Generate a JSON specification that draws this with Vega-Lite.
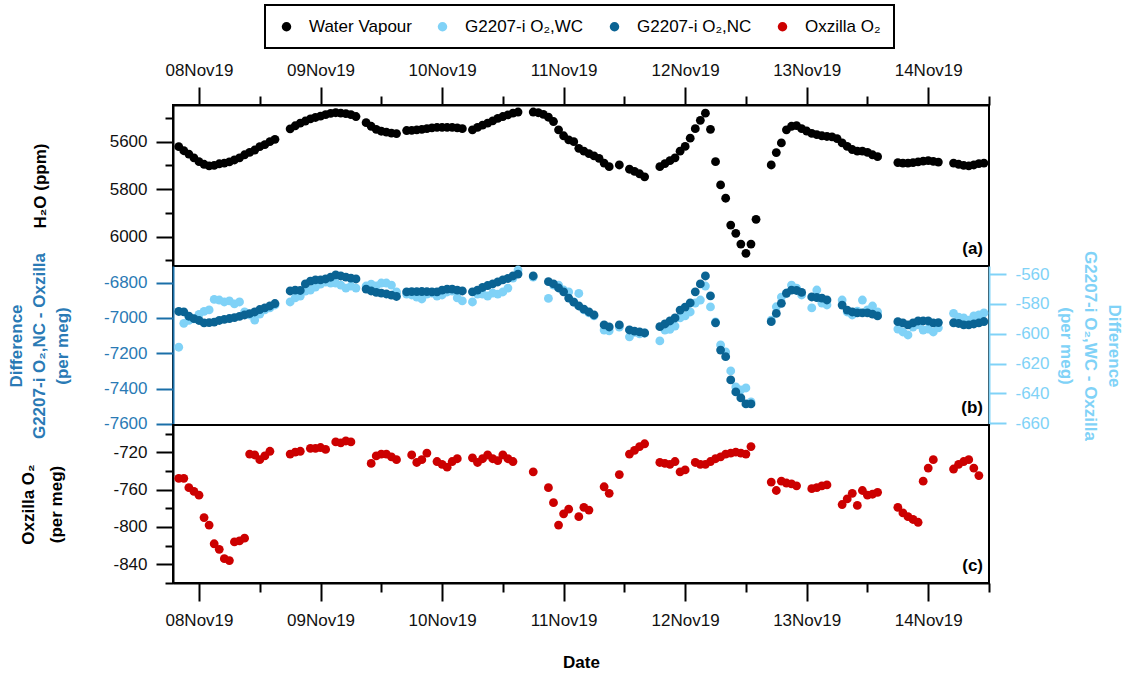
{
  "$schema": "https://vega.github.io/schema/vega-lite/v6.json",
  "padding": {"left": 6, "top": 4, "right": 5, "bottom": 5},
  "background": "white",
  "config": {
    "font": "Liberation Sans",
    "view": {"stroke": "black", "strokeWidth": 2},
    "axis": {"grid": false, "labelFont": "Liberation Sans", "labelFontSize": 17, "labelColor": "#111", "tickColor": "black", "tickWidth": 2, "domainColor": "black", "domainWidth": 2, "titleFont": "Liberation Sans", "titleFontSize": 17, "titleFontWeight": "bold", "titleColor": "black", "labelOverlap": false, "labelFlush": false},
    "legend": {"strokeColor": "black", "strokeWidth": 2, "padding": 13, "labelFontSize": 17, "labelFont": "Liberation Sans", "labelColor": "black", "symbolType": "circle", "symbolSize": 90, "symbolStrokeWidth": 0, "symbolOpacity": 1, "labelOffset": 14, "columnPadding": 22}
  },
  "datasets": {
    "d": [
      {"t":"2019-11-07T20:00","wv":5621,"wc":-609,"nc":-6963,"ox":-748},
      {"t":"2019-11-07T21:00","wv":5638,"wc":-593,"nc":-6965,"ox":-748},
      {"t":"2019-11-07T22:00","wv":5652,"wc":-591,"nc":-6990,"ox":-758},
      {"t":"2019-11-07T23:00","wv":5668,"wc":-590,"nc":-7004,"ox":-762},
      {"t":"2019-11-08T00:00","wv":5684,"wc":-587,"nc":-7014,"ox":-766},
      {"t":"2019-11-08T01:00","wv":5695,"wc":-585,"nc":-7028,"ox":-790},
      {"t":"2019-11-08T02:00","wv":5702,"wc":-584,"nc":-7026,"ox":-798},
      {"t":"2019-11-08T03:00","wv":5700,"wc":-577,"nc":-7023,"ox":-818},
      {"t":"2019-11-08T04:00","wv":5693,"wc":-577.4,"nc":-7014,"ox":-824},
      {"t":"2019-11-08T05:00","wv":5690,"wc":-578.7,"nc":-7008,"ox":-834},
      {"t":"2019-11-08T06:00","wv":5685,"wc":-578,"nc":-7003,"ox":-836},
      {"t":"2019-11-08T07:00","wv":5677,"wc":-580,"nc":-6998,"ox":-816},
      {"t":"2019-11-08T08:00","wv":5668,"wc":-578.7,"nc":-6991,"ox":-815},
      {"t":"2019-11-08T09:00","wv":5655,"wc":-585.4,"nc":-6983,"ox":-812},
      {"t":"2019-11-08T10:00","wv":5645,"wc":-587.4,"nc":-6975,"ox":-722},
      {"t":"2019-11-08T11:00","wv":5635,"wc":-590.8,"nc":-6966,"ox":-723},
      {"t":"2019-11-08T12:00","wv":5621,"wc":-586.8,"nc":-6952,"ox":-728},
      {"t":"2019-11-08T13:00","wv":5612,"wc":-584,"nc":-6943,"ox":-724},
      {"t":"2019-11-08T14:00","wv":5600,"wc":-582.7,"nc":-6932,"ox":-719},
      {"t":"2019-11-08T15:00","wv":5590,"wc":-580.7,"nc":-6918,"ox":null},
      {"t":"2019-11-08T18:00","wv":5546,"wc":-578.7,"nc":-6847,"ox":-722},
      {"t":"2019-11-08T19:00","wv":5533,"wc":-576,"nc":-6842,"ox":-720},
      {"t":"2019-11-08T20:00","wv":5522,"wc":-574.7,"nc":-6844,"ox":-719},
      {"t":"2019-11-08T21:00","wv":5513,"wc":-571.4,"nc":-6807,"ox":null},
      {"t":"2019-11-08T22:00","wv":5504,"wc":-570.7,"nc":-6791,"ox":-716},
      {"t":"2019-11-08T23:00","wv":5498,"wc":-568.7,"nc":-6784,"ox":-716},
      {"t":"2019-11-09T00:00","wv":5492,"wc":-566.7,"nc":-6784,"ox":-715},
      {"t":"2019-11-09T01:00","wv":5486,"wc":-565.4,"nc":-6779,"ox":-717},
      {"t":"2019-11-09T02:00","wv":5481,"wc":-566,"nc":-6769,"ox":null},
      {"t":"2019-11-09T03:00","wv":5478,"wc":-566,"nc":-6756,"ox":-709},
      {"t":"2019-11-09T04:00","wv":5480,"wc":-567.4,"nc":-6762,"ox":-710},
      {"t":"2019-11-09T05:00","wv":5482,"wc":-569.4,"nc":-6768,"ox":-708},
      {"t":"2019-11-09T06:00","wv":5486,"wc":-568,"nc":-6774,"ox":-709},
      {"t":"2019-11-09T07:00","wv":5494,"wc":-569.4,"nc":-6779,"ox":null},
      {"t":"2019-11-09T09:00","wv":5520,"wc":-568,"nc":-6836,"ox":null},
      {"t":"2019-11-09T10:00","wv":5535,"wc":-566.7,"nc":-6847,"ox":-732},
      {"t":"2019-11-09T11:00","wv":5548,"wc":-568,"nc":-6855,"ox":-724},
      {"t":"2019-11-09T12:00","wv":5556,"wc":-566,"nc":-6859,"ox":-722},
      {"t":"2019-11-09T13:00","wv":5560,"wc":-566,"nc":-6864,"ox":-722},
      {"t":"2019-11-09T14:00","wv":5564,"wc":-567.4,"nc":-6870,"ox":-725},
      {"t":"2019-11-09T15:00","wv":5566,"wc":-572,"nc":-6878,"ox":-728},
      {"t":"2019-11-09T17:00","wv":5553,"wc":-573.4,"nc":-6852,"ox":null},
      {"t":"2019-11-09T18:00","wv":5552,"wc":-574,"nc":-6851,"ox":-723},
      {"t":"2019-11-09T19:00","wv":5550,"wc":-575.4,"nc":-6851,"ox":-731},
      {"t":"2019-11-09T20:00","wv":5548,"wc":-576.7,"nc":-6850,"ox":-728},
      {"t":"2019-11-09T21:00","wv":5545,"wc":-573.4,"nc":-6851,"ox":-721},
      {"t":"2019-11-09T22:00","wv":5542,"wc":-572.7,"nc":-6852,"ox":null},
      {"t":"2019-11-09T23:00","wv":5540,"wc":-574.7,"nc":-6852,"ox":-730},
      {"t":"2019-11-10T00:00","wv":5540,"wc":-574,"nc":-6842,"ox":-733},
      {"t":"2019-11-10T01:00","wv":5540,"wc":-572,"nc":-6836,"ox":-736},
      {"t":"2019-11-10T02:00","wv":5540,"wc":-571.4,"nc":-6836,"ox":-730},
      {"t":"2019-11-10T03:00","wv":5542,"wc":-576,"nc":-6842,"ox":-727},
      {"t":"2019-11-10T04:00","wv":5545,"wc":-578,"nc":-6847,"ox":null},
      {"t":"2019-11-10T06:00","wv":5550,"wc":-578.7,"nc":-6852,"ox":-726},
      {"t":"2019-11-10T07:00","wv":5540,"wc":-573.4,"nc":-6842,"ox":-731},
      {"t":"2019-11-10T08:00","wv":5530,"wc":-573.4,"nc":-6827,"ox":-727},
      {"t":"2019-11-10T09:00","wv":5522,"wc":-574.7,"nc":-6816,"ox":-723},
      {"t":"2019-11-10T10:00","wv":5512,"wc":-572.7,"nc":-6807,"ox":-727},
      {"t":"2019-11-10T11:00","wv":5502,"wc":-573.4,"nc":-6796,"ox":-729},
      {"t":"2019-11-10T12:00","wv":5494,"wc":-572,"nc":-6784,"ox":-723},
      {"t":"2019-11-10T13:00","wv":5487,"wc":-569.4,"nc":-6776,"ox":-727},
      {"t":"2019-11-10T14:00","wv":5480,"wc":-562.7,"nc":-6762,"ox":-730},
      {"t":"2019-11-10T15:00","wv":5475,"wc":-557.3,"nc":-6751,"ox":null},
      {"t":"2019-11-10T18:00","wv":5475,"wc":-562,"nc":-6762,"ox":-741},
      {"t":"2019-11-10T19:00","wv":5478,"wc":null,"nc":null,"ox":null},
      {"t":"2019-11-10T20:00","wv":5485,"wc":null,"nc":null,"ox":null},
      {"t":"2019-11-10T21:00","wv":5497,"wc":-576.3,"nc":-6794,"ox":-758},
      {"t":"2019-11-10T22:00","wv":5515,"wc":-567.4,"nc":-6807,"ox":-774},
      {"t":"2019-11-10T23:00","wv":5550,"wc":-567.4,"nc":-6830,"ox":-798},
      {"t":"2019-11-11T00:00","wv":5575,"wc":-570.7,"nc":-6852,"ox":-786},
      {"t":"2019-11-11T01:00","wv":5592,"wc":-572,"nc":-6887,"ox":-781},
      {"t":"2019-11-11T02:00","wv":5600,"wc":-578.7,"nc":-6910,"ox":null},
      {"t":"2019-11-11T03:00","wv":5628,"wc":-573,"nc":-6932,"ox":-789},
      {"t":"2019-11-11T04:00","wv":5640,"wc":-584,"nc":-6950,"ox":-779},
      {"t":"2019-11-11T05:00","wv":5650,"wc":-586,"nc":-6966,"ox":-782},
      {"t":"2019-11-11T06:00","wv":5660,"wc":-588,"nc":-6983,"ox":null},
      {"t":"2019-11-11T07:00","wv":5670,"wc":null,"nc":null,"ox":null},
      {"t":"2019-11-11T08:00","wv":5690,"wc":-597.5,"nc":-7039,"ox":-757},
      {"t":"2019-11-11T09:00","wv":5705,"wc":-598,"nc":-7051,"ox":-764},
      {"t":"2019-11-11T11:00","wv":5698,"wc":-595.5,"nc":-7039,"ox":-744},
      {"t":"2019-11-11T13:00","wv":5716,"wc":-602,"nc":-7068,"ox":-722},
      {"t":"2019-11-11T14:00","wv":5725,"wc":-599,"nc":-7074,"ox":-718},
      {"t":"2019-11-11T15:00","wv":5735,"wc":-600,"nc":-7079,"ox":-714},
      {"t":"2019-11-11T16:00","wv":5748,"wc":-599.5,"nc":-7085,"ox":-711},
      {"t":"2019-11-11T19:00","wv":5705,"wc":-604.8,"nc":-7049,"ox":-731},
      {"t":"2019-11-11T20:00","wv":5692,"wc":-597.5,"nc":-7034,"ox":-732},
      {"t":"2019-11-11T21:00","wv":5680,"wc":-597,"nc":-7017,"ox":-733},
      {"t":"2019-11-11T22:00","wv":5668,"wc":-594.8,"nc":-7000,"ox":-730},
      {"t":"2019-11-11T23:00","wv":5640,"wc":-589.4,"nc":-6955,"ox":-741},
      {"t":"2019-11-12T00:00","wv":5620,"wc":-588,"nc":-6938,"ox":-739},
      {"t":"2019-11-12T01:00","wv":5585,"wc":-585.4,"nc":-6915,"ox":null},
      {"t":"2019-11-12T02:00","wv":5545,"wc":-579.4,"nc":-6852,"ox":-731},
      {"t":"2019-11-12T03:00","wv":5510,"wc":-577.4,"nc":-6807,"ox":-733},
      {"t":"2019-11-12T04:00","wv":5480,"wc":-568,"nc":-6762,"ox":-733},
      {"t":"2019-11-12T05:00","wv":5548,"wc":-582,"nc":-6875,"ox":-730},
      {"t":"2019-11-12T06:00","wv":5684,"wc":-592,"nc":-7027,"ox":-727},
      {"t":"2019-11-12T07:00","wv":5782,"wc":-607.5,"nc":-7182,"ox":-725},
      {"t":"2019-11-12T08:00","wv":5838,"wc":-612.2,"nc":-7219,"ox":-722},
      {"t":"2019-11-12T09:00","wv":5951,"wc":-624.9,"nc":-7351,"ox":-721},
      {"t":"2019-11-12T10:00","wv":5986,"wc":-635.6,"nc":-7419,"ox":-720},
      {"t":"2019-11-12T11:00","wv":6031,"wc":-637.6,"nc":-7453,"ox":-721},
      {"t":"2019-11-12T12:00","wv":6070,"wc":-636.3,"nc":-7487,"ox":-722},
      {"t":"2019-11-12T13:00","wv":6031,"wc":-645.6,"nc":-7487,"ox":-714},
      {"t":"2019-11-12T14:00","wv":5927,"wc":null,"nc":null,"ox":null},
      {"t":"2019-11-12T17:00","wv":5698,"wc":-590.8,"nc":-7021,"ox":-752},
      {"t":"2019-11-12T18:00","wv":5646,"wc":-581.9,"nc":-6974,"ox":-761},
      {"t":"2019-11-12T19:00","wv":5605,"wc":-575.4,"nc":-6917,"ox":-751},
      {"t":"2019-11-12T20:00","wv":5550,"wc":-572.7,"nc":-6860,"ox":-753},
      {"t":"2019-11-12T21:00","wv":5535,"wc":-567.4,"nc":-6842,"ox":-754},
      {"t":"2019-11-12T22:00","wv":5532,"wc":-569.4,"nc":-6844,"ox":-756},
      {"t":"2019-11-12T23:00","wv":5545,"wc":-574,"nc":-6855,"ox":null},
      {"t":"2019-11-13T00:00","wv":5555,"wc":null,"nc":null,"ox":null},
      {"t":"2019-11-13T01:00","wv":5565,"wc":-582.7,"nc":-6881,"ox":-759},
      {"t":"2019-11-13T02:00","wv":5570,"wc":-570.7,"nc":-6884,"ox":-758},
      {"t":"2019-11-13T03:00","wv":5575,"wc":-579.4,"nc":-6887,"ox":-756},
      {"t":"2019-11-13T04:00","wv":5578,"wc":-580.7,"nc":-6898,"ox":-755},
      {"t":"2019-11-13T05:00","wv":5580,"wc":null,"nc":null,"ox":null},
      {"t":"2019-11-13T06:00","wv":5587,"wc":null,"nc":null,"ox":null},
      {"t":"2019-11-13T07:00","wv":5605,"wc":-577.4,"nc":-6927,"ox":-776},
      {"t":"2019-11-13T08:00","wv":5620,"wc":-585.4,"nc":-6955,"ox":-770},
      {"t":"2019-11-13T09:00","wv":5633,"wc":-587.4,"nc":-6966,"ox":-764},
      {"t":"2019-11-13T10:00","wv":5640,"wc":-584.8,"nc":-6971,"ox":-777},
      {"t":"2019-11-13T11:00","wv":5640,"wc":-577.4,"nc":-6971,"ox":-761},
      {"t":"2019-11-13T12:00","wv":5645,"wc":-584,"nc":-6971,"ox":-766},
      {"t":"2019-11-13T13:00","wv":5655,"wc":-581.4,"nc":-6978,"ox":-765},
      {"t":"2019-11-13T14:00","wv":5663,"wc":-585.4,"nc":-6988,"ox":-763},
      {"t":"2019-11-13T18:00","wv":5688,"wc":-596.8,"nc":-7021,"ox":-779},
      {"t":"2019-11-13T19:00","wv":5690,"wc":-598.8,"nc":-7028,"ox":-785},
      {"t":"2019-11-13T20:00","wv":5690,"wc":-600.8,"nc":-7039,"ox":-789},
      {"t":"2019-11-13T21:00","wv":5688,"wc":-595.5,"nc":-7028,"ox":-792},
      {"t":"2019-11-13T22:00","wv":5685,"wc":-594,"nc":-7017,"ox":-795},
      {"t":"2019-11-13T23:00","wv":5682,"wc":-597.5,"nc":-7017,"ox":-751},
      {"t":"2019-11-14T00:00","wv":5680,"wc":-596.8,"nc":-7017,"ox":-737},
      {"t":"2019-11-14T01:00","wv":5683,"wc":-598.8,"nc":-7028,"ox":-728},
      {"t":"2019-11-14T02:00","wv":5686,"wc":-596,"nc":-7026,"ox":null},
      {"t":"2019-11-14T05:00","wv":5690,"wc":-586.3,"nc":-7027,"ox":-738},
      {"t":"2019-11-14T06:00","wv":5695,"wc":-588.8,"nc":-7031,"ox":-733},
      {"t":"2019-11-14T07:00","wv":5700,"wc":-589.4,"nc":-7039,"ox":-730},
      {"t":"2019-11-14T08:00","wv":5702,"wc":-590.8,"nc":-7039,"ox":-728},
      {"t":"2019-11-14T09:00","wv":5698,"wc":-588,"nc":-7034,"ox":-737},
      {"t":"2019-11-14T10:00","wv":5692,"wc":-587.4,"nc":-7028,"ox":-745},
      {"t":"2019-11-14T11:00","wv":5690,"wc":-586,"nc":-7020,"ox":null}
    ]
  },
  "data": {"name": "d"},
  "bounds": "flush",
  "spacing": 0,
  "resolve": {"scale": {"color": "shared"}},
  "vconcat": [
    {
      "width": 816,
      "height": 161,
      "title": {"text": "(a)", "orient": "bottom", "anchor": "end", "frame": "group", "offset": -25, "dx": -6, "font": "Liberation Sans", "fontSize": 17, "fontWeight": "bold", "color": "black"},
      "layer": [
        {
          "mark": {"type": "circle", "size": 78, "opacity": 1},
          "encoding": {
            "x": {"field": "t", "type": "temporal",
              "scale": {"domain": [{"year": 2019, "month": "nov", "date": 7, "hours": 18, "minutes": 52}, {"year": 2019, "month": "nov", "date": 14, "hours": 12}]},
              "axis": {"orient": "top", "title": null, "format": "%d%b%y", "tickSize": 18, "labelPadding": 8,
                "values": [{"year": 2019, "month": "nov", "date": 8}, {"year": 2019, "month": "nov", "date": 9}, {"year": 2019, "month": "nov", "date": 10}, {"year": 2019, "month": "nov", "date": 11}, {"year": 2019, "month": "nov", "date": 12}, {"year": 2019, "month": "nov", "date": 13}, {"year": 2019, "month": "nov", "date": 14}]}},
            "y": {"field": "wv", "type": "quantitative",
              "scale": {"domain": [5445.5, 6123.4], "reverse": true, "nice": false, "zero": false},
              "axis": {"orient": "left", "values": [5600, 5800, 6000], "labelExpr": "toString(datum.value)", "tickSize": 17, "labelPadding": 9, "title": "H₂O (ppm)", "titlePadding": 60}},
            "color": {"datum": "Water Vapour", "type": "nominal",
              "scale": {"domain": ["Water Vapour", "G2207-i O₂,WC", "G2207-i O₂,NC", "Oxzilla O₂"], "range": ["#000000", "#80d2f7", "#0a6393", "#cc0000"]},
              "legend": {"orient": "none", "legendX": 92, "legendY": -100, "direction": "horizontal", "title": null}}
          }
        },
        {
          "mark": {"type": "circle", "size": 1, "opacity": 0},
          "encoding": {
            "x": {"field": "t", "type": "temporal",
              "scale": {"domain": [{"year": 2019, "month": "nov", "date": 7, "hours": 18, "minutes": 52}, {"year": 2019, "month": "nov", "date": 14, "hours": 12}]},
              "axis": {"orient": "top", "title": null, "labels": false, "domain": false, "tickSize": 9,
                "values": [{"year": 2019, "month": "nov", "date": 8, "hours": 12}, {"year": 2019, "month": "nov", "date": 9, "hours": 12}, {"year": 2019, "month": "nov", "date": 10, "hours": 12}, {"year": 2019, "month": "nov", "date": 11, "hours": 12}, {"year": 2019, "month": "nov", "date": 12, "hours": 12}, {"year": 2019, "month": "nov", "date": 13, "hours": 12}, {"year": 2019, "month": "nov", "date": 14, "hours": 12}]}},
            "y": {"field": "wv", "type": "quantitative",
              "scale": {"domain": [5445.5, 6123.4], "reverse": true, "nice": false, "zero": false},
              "axis": {"orient": "left", "values": [5500, 5700, 5900, 6100], "tickSize": 8, "labels": false, "domain": false, "title": null}}
          }
        }
      ],
      "resolve": {"axis": {"x": "independent", "y": "independent"}}
    },
    {
      "width": 816,
      "height": 159,
      "title": {"text": "(b)", "orient": "bottom", "anchor": "end", "frame": "group", "offset": -40, "dx": -6, "font": "Liberation Sans", "fontSize": 17, "fontWeight": "bold", "color": "black"},
      "layer": [
        {
          "mark": {"type": "circle", "size": 78, "opacity": 1},
          "encoding": {
            "x": {"field": "t", "type": "temporal",
              "scale": {"domain": [{"year": 2019, "month": "nov", "date": 7, "hours": 18, "minutes": 52}, {"year": 2019, "month": "nov", "date": 14, "hours": 12}]},
              "axis": null},
            "y": {"field": "wc", "type": "quantitative",
              "scale": {"domain": [-661.1, -554.6], "nice": false, "zero": false},
              "axis": {"orient": "right", "values": [-560, -580, -600, -620, -640, -660], "labelExpr": "toString(datum.value)", "tickSize": 17, "labelPadding": 9,
                "tickColor": "#80d2f7", "labelColor": "#80d2f7", "domainColor": "#80d2f7", "titleColor": "#80d2f7",
                "title": ["Difference", "G2207-i O₂,WC - Oxzilla", "(per meg)"], "titleLineHeight": 24, "titlePadding": 7}},
            "color": {"datum": "G2207-i O₂,WC", "type": "nominal"}
          }
        },
        {
          "mark": {"type": "circle", "size": 78, "opacity": 1},
          "encoding": {
            "x": {"field": "t", "type": "temporal",
              "scale": {"domain": [{"year": 2019, "month": "nov", "date": 7, "hours": 18, "minutes": 52}, {"year": 2019, "month": "nov", "date": 14, "hours": 12}]},
              "axis": null},
            "y": {"field": "nc", "type": "quantitative",
              "scale": {"domain": [-7606.3, -6705.4], "nice": false, "zero": false},
              "axis": {"orient": "left", "values": [-6800, -7000, -7200, -7400, -7600], "labelExpr": "toString(datum.value)", "tickSize": 17, "labelPadding": 9,
                "tickColor": "#1a6fa8", "labelColor": "#2a7ab5", "domainColor": "#1a6fa8", "titleColor": "#2a7ab5",
                "title": ["Difference", "G2207-i O₂,NC - Oxzilla", "(per meg)"], "titleLineHeight": 23, "titlePadding": 32}},
            "color": {"datum": "G2207-i O₂,NC", "type": "nominal"}
          }
        }
      ],
      "resolve": {"scale": {"y": "independent"}, "axis": {"y": "independent"}}
    },
    {
      "width": 816,
      "height": 158,
      "title": {"text": "(c)", "orient": "bottom", "anchor": "end", "frame": "group", "offset": -112, "dx": -6, "font": "Liberation Sans", "fontSize": 17, "fontWeight": "bold", "color": "black"},
      "layer": [
        {
          "mark": {"type": "circle", "size": 78, "opacity": 1},
          "encoding": {
            "x": {"field": "t", "type": "temporal",
              "scale": {"domain": [{"year": 2019, "month": "nov", "date": 7, "hours": 18, "minutes": 52}, {"year": 2019, "month": "nov", "date": 14, "hours": 12}]},
              "axis": {"orient": "bottom", "title": "Date", "titlePadding": 26, "format": "%d%b%y", "tickSize": 18, "labelPadding": 11,
                "values": [{"year": 2019, "month": "nov", "date": 8}, {"year": 2019, "month": "nov", "date": 9}, {"year": 2019, "month": "nov", "date": 10}, {"year": 2019, "month": "nov", "date": 11}, {"year": 2019, "month": "nov", "date": 12}, {"year": 2019, "month": "nov", "date": 13}, {"year": 2019, "month": "nov", "date": 14}]}},
            "y": {"field": "ox", "type": "quantitative",
              "scale": {"domain": [-860, -690.9], "nice": false, "zero": false},
              "axis": {"orient": "left", "values": [-720, -760, -800, -840], "labelExpr": "toString(datum.value)", "tickSize": 17, "labelPadding": 9, "title": ["Oxzilla O₂", "(per meg)"], "titleLineHeight": 28, "titlePadding": 47}},
            "color": {"datum": "Oxzilla O₂", "type": "nominal"}
          }
        },
        {
          "mark": {"type": "circle", "size": 1, "opacity": 0},
          "encoding": {
            "x": {"field": "t", "type": "temporal",
              "scale": {"domain": [{"year": 2019, "month": "nov", "date": 7, "hours": 18, "minutes": 52}, {"year": 2019, "month": "nov", "date": 14, "hours": 12}]},
              "axis": {"orient": "bottom", "title": null, "labels": false, "domain": false, "tickSize": 9,
                "values": [{"year": 2019, "month": "nov", "date": 8, "hours": 12}, {"year": 2019, "month": "nov", "date": 9, "hours": 12}, {"year": 2019, "month": "nov", "date": 10, "hours": 12}, {"year": 2019, "month": "nov", "date": 11, "hours": 12}, {"year": 2019, "month": "nov", "date": 12, "hours": 12}, {"year": 2019, "month": "nov", "date": 13, "hours": 12}, {"year": 2019, "month": "nov", "date": 14, "hours": 12}]}},
            "y": {"field": "ox", "type": "quantitative",
              "scale": {"domain": [-860, -690.9], "nice": false, "zero": false},
              "axis": {"orient": "left", "values": [-700, -740, -780, -820, -860], "tickSize": 8, "labels": false, "domain": false, "title": null}}
          }
        }
      ],
      "resolve": {"axis": {"x": "independent", "y": "independent"}}
    }
  ]
}
